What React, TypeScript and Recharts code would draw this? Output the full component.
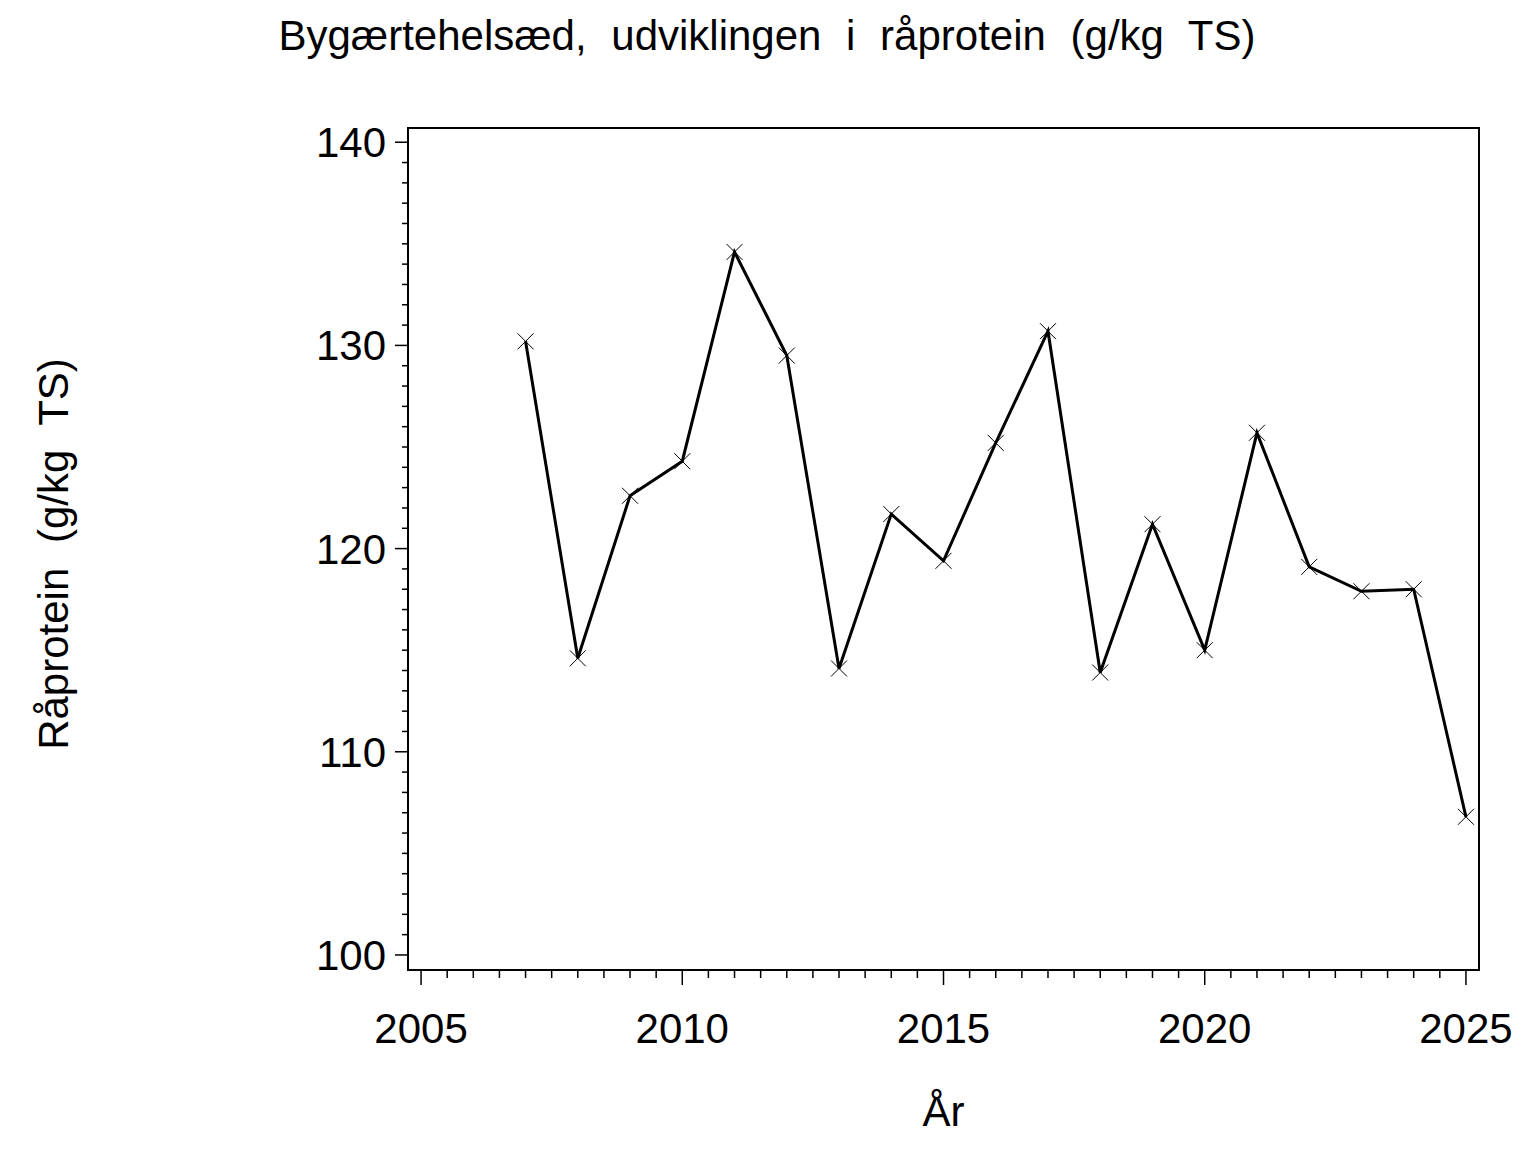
import { LineChart, Line, XAxis, YAxis, ReferenceArea, Label } from 'recharts';

// values
const years = [2007, 2008, 2009, 2010, 2011, 2012, 2013, 2014, 2015, 2016, 2017, 2018, 2019, 2020, 2021, 2022, 2023, 2024, 2025]
const raaprotein = [130.2, 114.6, 122.6, 124.3, 134.6, 129.5, 114.1, 121.7, 119.4, 125.2, 130.7, 113.9, 121.2, 115.0, 125.7, 119.1, 117.9, 118.0, 106.8]

const title = 'Bygærtehelsæd, udviklingen i råprotein (g/kg TS)'
const yTitle = 'Råprotein (g/kg TS)'
const xTitle = 'År'

const xMajorTicks = [2005, 2010, 2015, 2020, 2025]
const yMajorTicks = [100, 110, 120, 130, 140]

// minor ticks: every half year / every 1 g
const xTicks = Array.from({ length: 41 }, (_, i) => 2005 + i * 0.5)
const yTicks = Array.from({ length: 41 }, (_, i) => 100 + i)

const xDomain = [2004.75, 2025.25]
const yDomain = [99.26, 140.7]

const data = years.map((year, i) => ({ year, value: raaprotein[i] }))

const FONT = '"Liberation Sans", Arial, sans-serif'
const textStyle = { fontFamily: FONT, fontSize: 42, fill: '#000', wordSpacing: 13 }

const XTick = (props: any) => {
  const { x, y, payload } = props
  const major = xMajorTicks.includes(payload.value)
  return (
    <g>
      <line x1={x} x2={x} y1={y} y2={y + (major ? 15 : 8)} stroke="#000" strokeWidth={1.5} />
      {major && (
        <text x={x} y={y + 73} textAnchor="middle" style={textStyle}>
          {payload.value}
        </text>
      )}
    </g>
  )
}

const YTick = (props: any) => {
  const { x, y, payload } = props
  const major = yMajorTicks.includes(payload.value)
  return (
    <g>
      <line x1={x} x2={x - (major ? 13 : 6)} y1={y} y2={y} stroke="#000" strokeWidth={1.5} />
      {major && (
        <text x={x - 22} y={y + 15} textAnchor="end" style={textStyle}>
          {payload.value}
        </text>
      )}
    </g>
  )
}

const Cross = (props: any) => {
  const { cx, cy, index } = props
  if (cx == null || cy == null) return <g key={index} />
  const s = 8
  return (
    <path
      key={index}
      d={`M${cx - s},${cy - s}L${cx + s},${cy + s}M${cx - s},${cy + s}L${cx + s},${cy - s}`}
      stroke="#000"
      strokeWidth={1}
      fill="none"
    />
  )
}

const App = () => {
  return (
    <div style={{ position: 'absolute', left: 0, top: 0, width: 1536, height: 1152, background: '#fff' }}>
      <svg width={1536} height={80} style={{ position: 'absolute', left: 0, top: 0 }}>
        <text x={767} y={50} textAnchor="middle" style={textStyle}>
          {title}
        </text>
      </svg>
      <LineChart
        width={1536}
        height={1152}
        data={data}
        margin={{ top: 128, right: 57, left: 308, bottom: 22 }}
      >
        <XAxis
          dataKey="year"
          type="number"
          domain={xDomain}
          ticks={xTicks}
          interval={0}
          axisLine={false}
          tickLine={false}
          tickSize={0}
          tickMargin={0}
          height={160}
          tick={<XTick />}
        >
          <Label
            content={(p: any) => {
              const vb = p.viewBox
              return (
                <text x={vb.x + vb.width / 2} y={1126} textAnchor="middle" style={textStyle}>
                  {xTitle}
                </text>
              )
            }}
          />
        </XAxis>
        <YAxis
          type="number"
          domain={yDomain}
          ticks={yTicks}
          interval={0}
          axisLine={false}
          tickLine={false}
          tickSize={0}
          tickMargin={0}
          width={100}
          tick={<YTick />}
        >
          <Label
            content={(p: any) => {
              const vb = p.viewBox
              const cy = vb.y + vb.height / 2 + 5
              return (
                <text x={68} y={cy} transform={`rotate(-90, 68, ${cy})`} textAnchor="middle" style={textStyle}>
                  {yTitle}
                </text>
              )
            }}
          />
        </YAxis>
        <ReferenceArea
          x1={xDomain[0]}
          x2={xDomain[1]}
          y1={yDomain[0]}
          y2={yDomain[1]}
          fill="none"
          stroke="#000"
          strokeWidth={2}
        />
        <Line
          type="linear"
          dataKey="value"
          stroke="#000"
          strokeWidth={3}
          dot={Cross}
          activeDot={false}
          isAnimationActive={false}
        />
      </LineChart>
    </div>
  )
}

export default App
